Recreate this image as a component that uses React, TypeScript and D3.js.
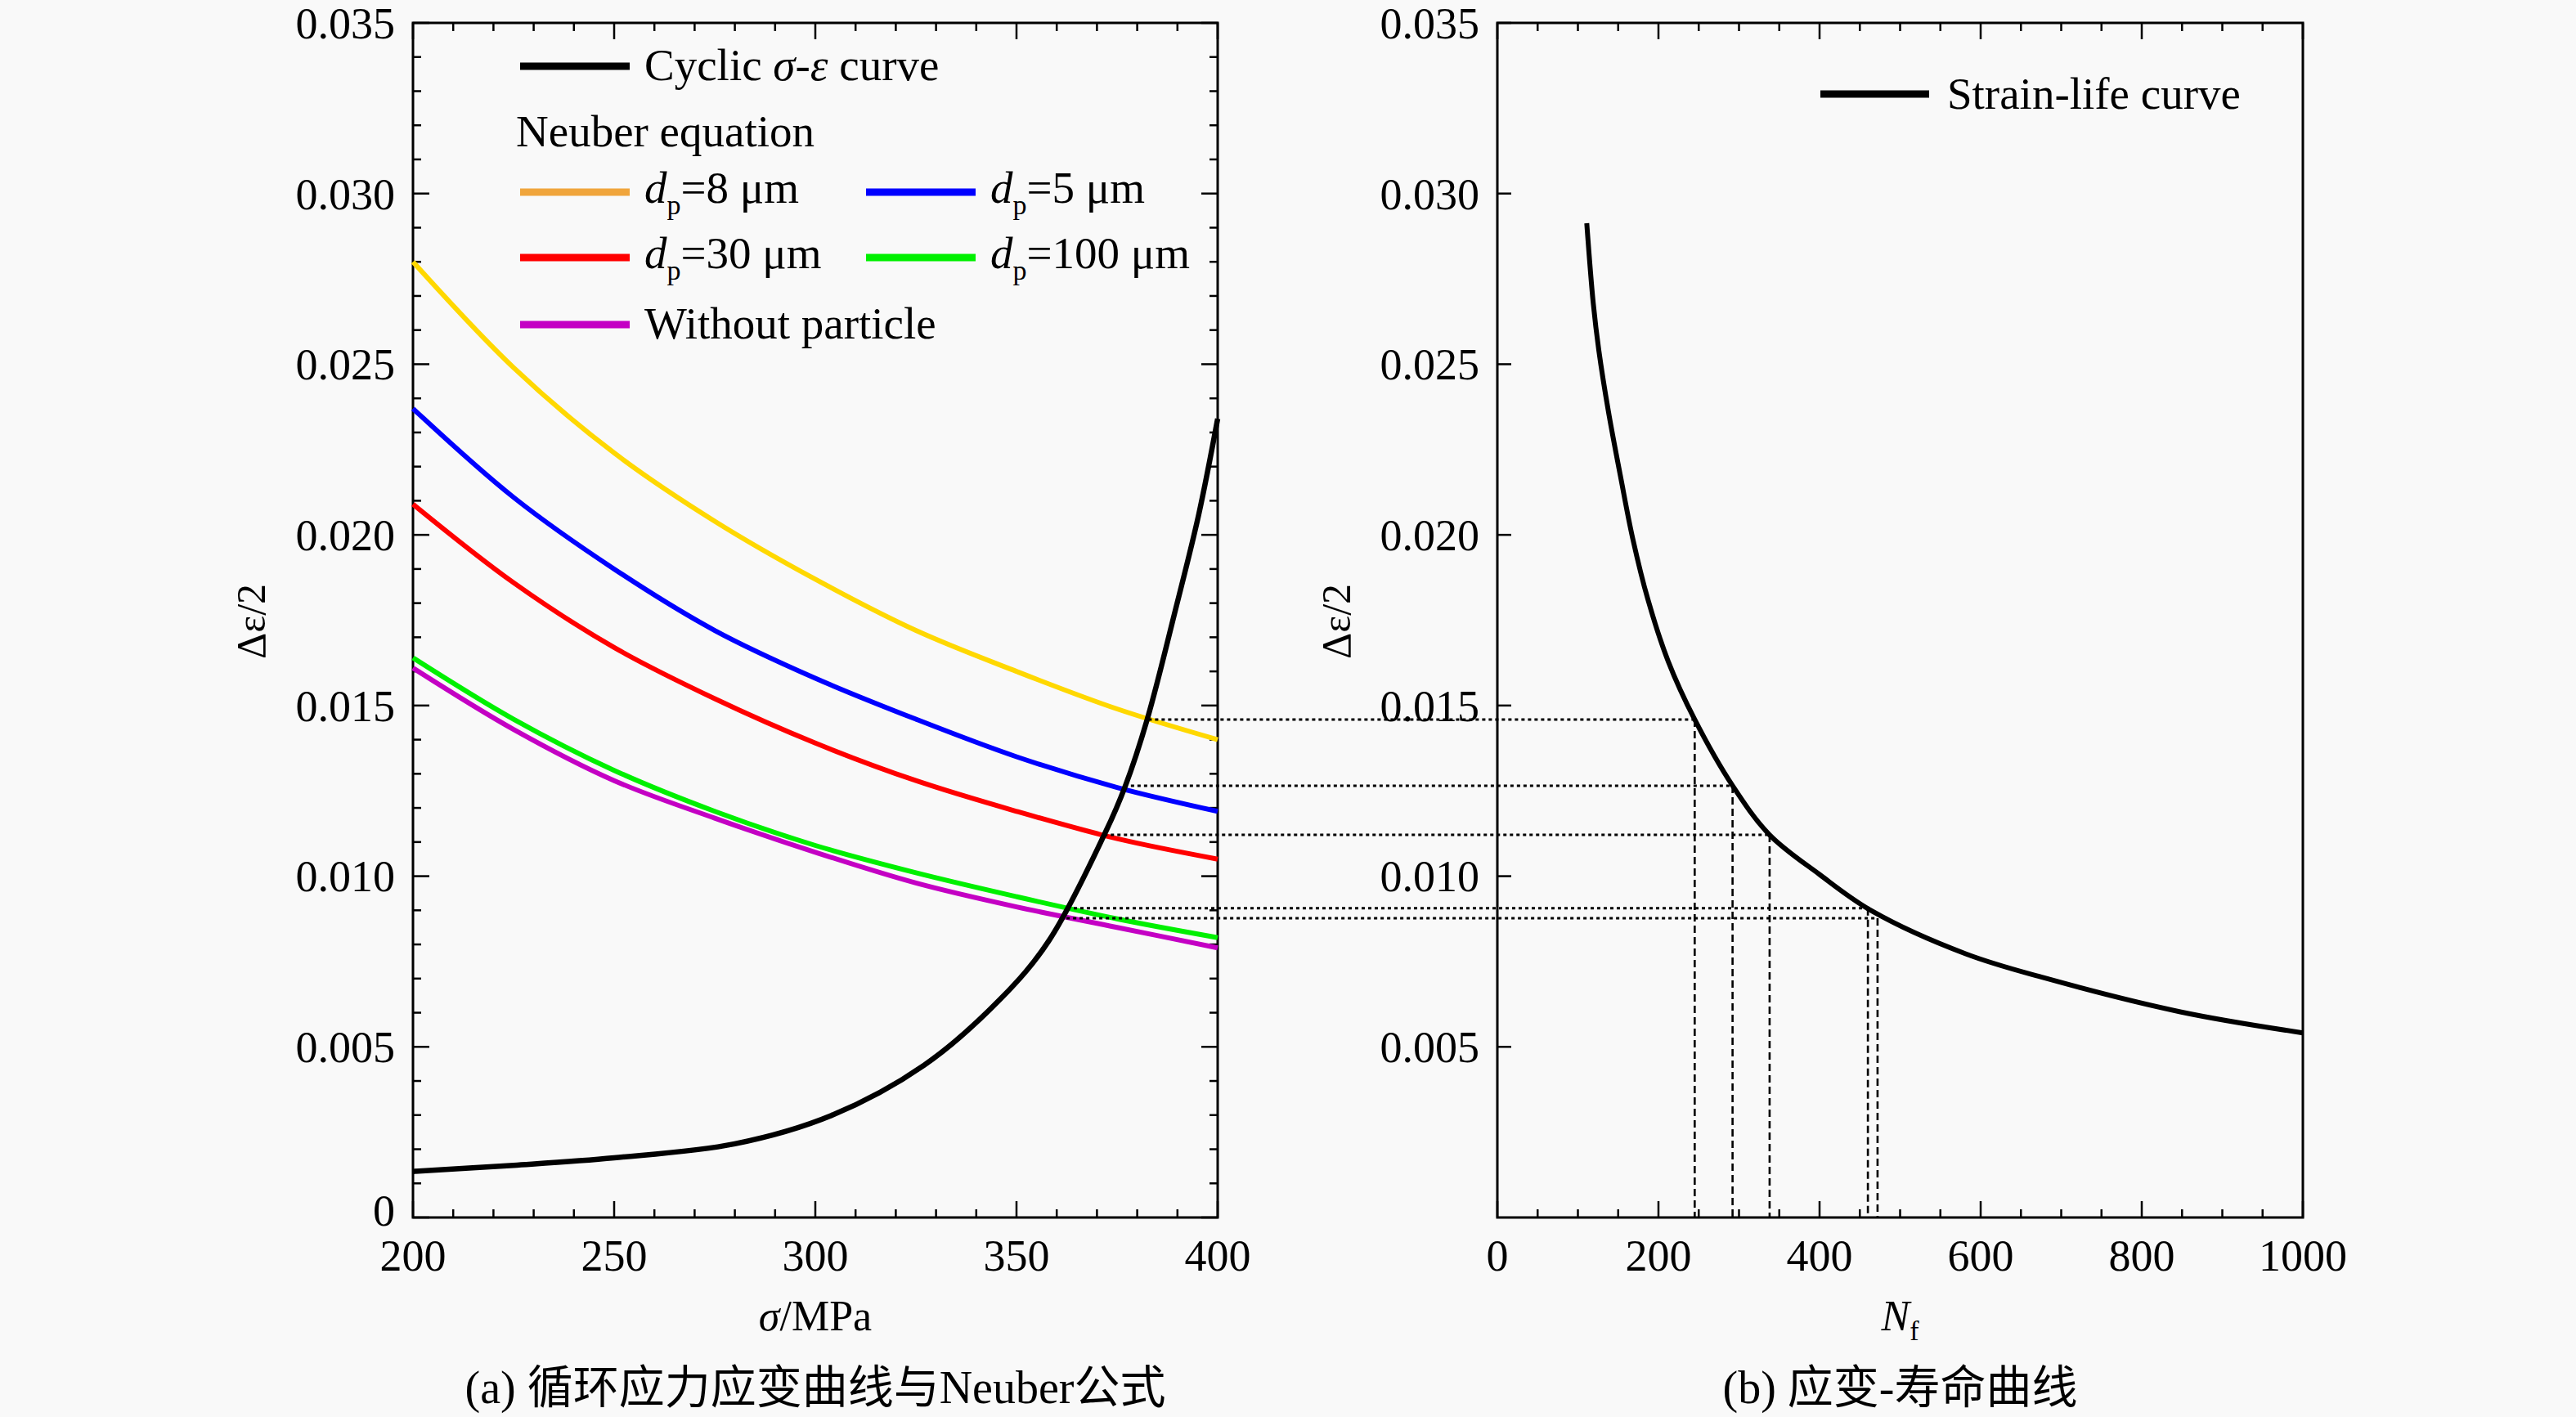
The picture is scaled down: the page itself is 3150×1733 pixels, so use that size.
import { useEffect, useRef } from 'react';
import * as d3 from 'd3';

// Neuber hyperbolas, read at fixed stress steps (MPa)
const sigmaGrid = [200, 225, 250, 275, 300, 325, 350, 375, 400];
const neuberD8 = [0.028, 0.0249, 0.0224, 0.0204, 0.0187, 0.0172, 0.016, 0.0149, 0.014];
const neuberD5 = [0.0237, 0.0211, 0.019, 0.0172, 0.0158, 0.0146, 0.0135, 0.0126, 0.0119];
const neuberD30 = [0.0209, 0.0186, 0.0167, 0.0152, 0.0139, 0.0128, 0.0119, 0.0111, 0.0105];
const neuberD100 = [0.0164, 0.0146, 0.0131, 0.0119, 0.0109, 0.0101, 0.0094, 0.00875, 0.0082];
const neuberNone = [0.0161, 0.0143, 0.0128, 0.0117, 0.0107, 0.0098, 0.0091, 0.0085, 0.0079];

// cyclic stress-strain curve
const cyclicSigma = [200, 225, 250, 280, 304, 327, 346, 358, 372, 377, 382.5, 389.5, 395.3, 400];
const cyclicStrain = [0.00135, 0.00153, 0.00175, 0.00216, 0.00299, 0.00446, 0.0064, 0.0081,
  0.01126, 0.01263, 0.0146, 0.0178, 0.0206, 0.0234];

// strain-life curve
const lifeN = [111, 119, 126, 138, 153, 168, 187, 212, 245, 292, 338, 400, 465, 582, 679, 849, 1000];
const lifeStrain = [0.02913, 0.0268, 0.0254, 0.0236, 0.0217, 0.0199, 0.0181, 0.0163, 0.01459,
  0.01265, 0.01121, 0.01005, 0.00898, 0.00772, 0.00702, 0.00602, 0.00541];

// intersections carried over from (a) to (b)
const crossSigma = [382.8, 376.8, 371.8, 362.6, 360.8];
const crossStrain = [0.01459, 0.01265, 0.01121, 0.00906, 0.00877];
const crossLife = [245, 292, 338, 460, 472];

// ticks
const sigmaTicks = [200, 250, 300, 350, 400];
const lifeTicks = [0, 200, 400, 600, 800, 1000];
const strainTicks = [0, 0.005, 0.01, 0.015, 0.02, 0.025, 0.03, 0.035];
const strainLabels = ['0', '0.005', '0.010', '0.015', '0.020', '0.025', '0.030', '0.035'];

const FONT = '"Liberation Serif", "Times New Roman", "Noto Sans CJK SC", serif';

export default function App() {
  const ref = useRef<SVGSVGElement>(null);

  useEffect(() => {
    const svg = d3.select(ref.current);
    svg.selectAll('*').remove();

    const W = 3150, H = 1733;
    const top = 28, bottom = 1489;
    const L = { x0: 505, x1: 1489 };
    const R = { x0: 1831, x1: 2816 };

    svg.append('rect').attr('width', W).attr('height', H).attr('fill', '#f9f9f9');

    const xL = d3.scaleLinear().domain([200, 400]).range([L.x0, L.x1]);
    const xR = d3.scaleLinear().domain([0, 1000]).range([R.x0, R.x1]);
    const y = d3.scaleLinear().domain([0, 0.035]).range([bottom, top]);

    const major = 20, minor = 10;
    const tickG = svg.append('g').attr('stroke', '#000').attr('stroke-width', 2.5);
    const vTick = (x: number, y0: number, len: number) =>
      tickG.append('line').attr('x1', x).attr('x2', x).attr('y1', y0).attr('y2', y0 + len);
    const hTick = (yy: number, x0: number, len: number) =>
      tickG.append('line').attr('y1', yy).attr('y2', yy).attr('x1', x0).attr('x2', x0 + len);

    // (a) ticks
    d3.range(200, 401, 10).forEach(v => {
      const len = v % 50 === 0 ? major : minor;
      vTick(xL(v), bottom, -len);
      vTick(xL(v), top, len);
    });
    d3.range(0, 36).forEach(i => {
      const len = i % 5 === 0 ? major : minor;
      hTick(y(i / 1000), L.x0, len);
      hTick(y(i / 1000), L.x1, -len);
    });
    // (b) ticks
    d3.range(0, 1001, 50).forEach(v => {
      const len = v % 200 === 0 ? major : minor;
      vTick(xR(v), bottom, -len);
      vTick(xR(v), top, len);
    });
    strainTicks.slice(1).forEach(v => hTick(y(v), R.x0, 17));

    // frames
    [L, R].forEach(p => {
      svg.append('rect')
        .attr('x', p.x0).attr('y', top)
        .attr('width', p.x1 - p.x0).attr('height', bottom - top)
        .attr('fill', 'none').attr('stroke', '#000').attr('stroke-width', 3);
    });

    const text = svg.append('g').attr('font-family', FONT).attr('fill', '#000');

    // tick labels
    strainTicks.forEach((v, i) => {
      text.append('text').attr('x', L.x0 - 22).attr('y', y(v) - (i === 0 ? 9 : 0)).attr('dy', '0.35em')
        .attr('text-anchor', 'end').attr('font-size', 54).text(strainLabels[i]);
      if (i > 0) {
        text.append('text').attr('x', R.x0 - 22).attr('y', y(v)).attr('dy', '0.35em')
          .attr('text-anchor', 'end').attr('font-size', 54).text(strainLabels[i]);
      }
    });
    sigmaTicks.forEach(v => {
      text.append('text').attr('x', xL(v)).attr('y', 1554)
        .attr('text-anchor', 'middle').attr('font-size', 54).text(v);
    });
    lifeTicks.forEach(v => {
      text.append('text').attr('x', xR(v)).attr('y', 1554)
        .attr('text-anchor', 'middle').attr('font-size', 54).text(v);
    });

    // axis titles
    const sx = text.append('text').attr('x', (L.x0 + L.x1) / 2).attr('y', 1627)
      .attr('text-anchor', 'middle').attr('font-size', 52);
    sx.append('tspan').attr('font-style', 'italic').text('σ');
    sx.append('tspan').text('/MPa');

    const nx = text.append('text').attr('x', (R.x0 + R.x1) / 2).attr('y', 1627)
      .attr('text-anchor', 'middle').attr('font-size', 52);
    nx.append('tspan').attr('font-style', 'italic').text('N');
    nx.append('tspan').attr('font-size', 34).attr('dy', 12).text('f');

    [306, 1633].forEach(cx => {
      text.append('text')
        .attr('transform', `translate(${cx},760) rotate(-90)`)
        .attr('dy', '0.35em').attr('text-anchor', 'middle').attr('font-size', 50)
        .text('Δε/2');
    });

    // captions
    text.append('text').attr('x', (L.x0 + L.x1) / 2).attr('y', 1716)
      .attr('text-anchor', 'middle').attr('font-size', 56)
      .text('(a) 循环应力应变曲线与Neuber公式');
    text.append('text').attr('x', (R.x0 + R.x1) / 2).attr('y', 1716)
      .attr('text-anchor', 'middle').attr('font-size', 56)
      .text('(b) 应变-寿命曲线');

    // curves
    const smooth = d3.curveCatmullRom.alpha(0.5);
    const neuberLine = d3.line<number>()
      .x((_, i) => xL(sigmaGrid[i]))
      .y(d => y(d))
      .curve(smooth);

    const series = [
      { values: neuberNone, color: '#c400c4' },
      { values: neuberD100, color: '#00f000' },
      { values: neuberD30, color: '#ff0000' },
      { values: neuberD5, color: '#0000ff' },
      { values: neuberD8, color: '#ffd800' },
    ];
    series.forEach(s => {
      svg.append('path').datum(s.values).attr('d', neuberLine)
        .attr('fill', 'none').attr('stroke', s.color).attr('stroke-width', 6);
    });

    const cyclicLine = d3.line<number>()
      .x((_, i) => xL(cyclicSigma[i]))
      .y(d => y(d))
      .curve(smooth);
    svg.append('path').datum(cyclicStrain).attr('d', cyclicLine)
      .attr('fill', 'none').attr('stroke', '#000').attr('stroke-width', 6.5);

    const lifeLine = d3.line<number>()
      .x((_, i) => xR(lifeN[i]))
      .y(d => y(d))
      .curve(smooth);
    svg.append('path').datum(lifeStrain).attr('d', lifeLine)
      .attr('fill', 'none').attr('stroke', '#000').attr('stroke-width', 6);

    // projection lines
    crossStrain.forEach((e, i) => {
      svg.append('line')
        .attr('x1', xL(crossSigma[i])).attr('x2', xR(crossLife[i]))
        .attr('y1', y(e)).attr('y2', y(e))
        .attr('stroke', '#000').attr('stroke-width', 3).attr('stroke-dasharray', '4,4');
      svg.append('line')
        .attr('x1', xR(crossLife[i])).attr('x2', xR(crossLife[i]))
        .attr('y1', y(e)).attr('y2', bottom)
        .attr('stroke', '#000').attr('stroke-width', 2.6).attr('stroke-dasharray', '9,5');
    });

    // legend (a)
    const lg = svg.append('g').attr('font-family', FONT).attr('font-size', 55);
    const swatch = (x: number, cy: number, color: string) =>
      lg.append('line').attr('x1', x).attr('x2', x + 134).attr('y1', cy).attr('y2', cy)
        .attr('stroke', color).attr('stroke-width', 9);

    swatch(636, 81, '#000');
    const t0 = lg.append('text').attr('x', 788).attr('y', 98);
    t0.append('tspan').text('Cyclic ');
    t0.append('tspan').attr('font-style', 'italic').text('σ');
    t0.append('tspan').text('-');
    t0.append('tspan').attr('font-style', 'italic').text('ε');
    t0.append('tspan').text(' curve');

    lg.append('text').attr('x', 631).attr('y', 179).text('Neuber equation');

    const dpItem = (x: number, cy: number, color: string, size: string) => {
      swatch(x, cy, color);
      const t = lg.append('text').attr('x', x + 152).attr('y', cy + 13);
      t.append('tspan').attr('font-style', 'italic').text('d');
      t.append('tspan').attr('font-size', 34).attr('dy', 14).text('p');
      t.append('tspan').attr('dy', -14).text(`=${size} μm`);
    };
    dpItem(636, 235, '#f0a53c', '8');
    dpItem(1059, 235, '#0000ff', '5');
    dpItem(636, 315, '#ff0000', '30');
    dpItem(1059, 315, '#00f000', '100');

    swatch(636, 397, '#c400c4');
    lg.append('text').attr('x', 788).attr('y', 414).text('Without particle');

    // legend (b)
    lg.append('line').attr('x1', 2226).attr('x2', 2359).attr('y1', 115).attr('y2', 115)
      .attr('stroke', '#000').attr('stroke-width', 9);
    lg.append('text').attr('x', 2381).attr('y', 133).text('Strain-life curve');
  }, []);

  return (
    <svg
      ref={ref}
      width={3150}
      height={1733}
      viewBox="0 0 3150 1733"
      style={{ position: 'absolute', left: 0, top: 0, display: 'block' }}
    />
  );
}
